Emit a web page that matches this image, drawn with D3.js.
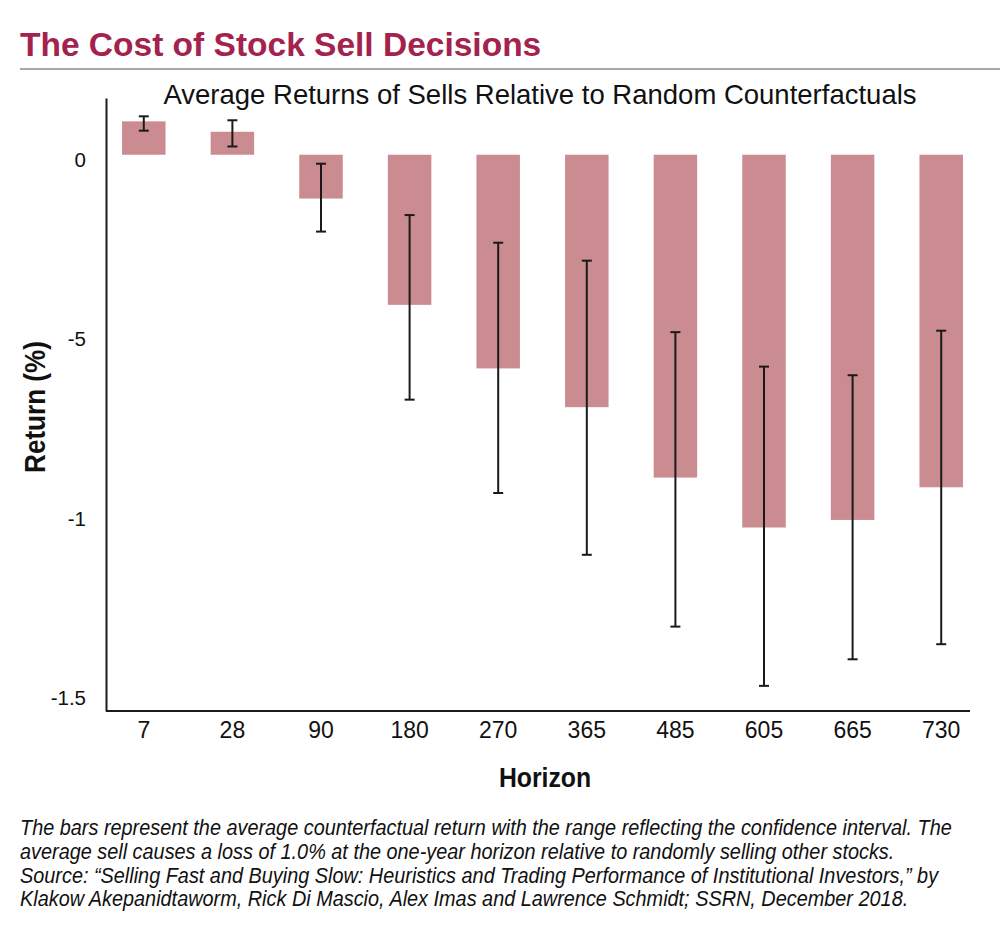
<!DOCTYPE html>
<html>
<head>
<meta charset="utf-8">
<script src="https://cdn.jsdelivr.net/npm/d3@7"></script>
<style>
  body { margin: 0; background: #fff; }
  svg { display: block; }
</style>
</head>
<body>
<svg id="chart" width="1000" height="947"></svg>
<script>
// data
const horizons = ['7', '28', '90', '180', '270', '365', '485', '605', '665', '730'];
const meanReturn = [0.093, 0.064, -0.122, -0.418, -0.595, -0.703, -0.899, -1.038, -1.017, -0.926];
const ciHigh = [0.107, 0.096, -0.025, -0.168, -0.245, -0.295, -0.494, -0.590, -0.614, -0.490];
const ciLow = [0.067, 0.023, -0.214, -0.682, -0.942, -1.114, -1.314, -1.479, -1.405, -1.363];
const yTicks = [0, -0.5, -1, -1.5];
const yTickLabels = ['0', '-5', '-1', '-1.5'];
const captionLines = [
  'The bars represent the average counterfactual return with the range reflecting the confidence interval. The',
  'average sell causes a loss of 1.0% at the one-year horizon relative to randomly selling other stocks.',
  'Source: \u201cSelling Fast and Buying Slow: Heuristics and Trading Performance of Institutional Investors,\u201d by',
  'Klakow Akepanidtaworm, Rick Di Mascio, Alex Imas and Lawrence Schmidt; SSRN, December 2018.'
];

const svg = d3.select('#chart');
const sans = '"Liberation Sans", Arial, Helvetica, sans-serif';

const data = horizons.map((h, i) => ({
  h, v: meanReturn[i], hi: ciHigh[i], lo: ciLow[i]
}));

// header
svg.append('text')
  .attr('x', 20).attr('y', 56)
  .attr('font-family', sans)
  .attr('font-weight', 'bold')
  .attr('font-size', 33.5)
  .attr('fill', '#a3224e')
  .text('The Cost of Stock Sell Decisions');

svg.append('line')
  .attr('x1', 20).attr('x2', 1000)
  .attr('y1', 69).attr('y2', 69)
  .attr('stroke', '#a8a8a8')
  .attr('stroke-width', 2);

svg.append('text')
  .attr('x', 540).attr('y', 104)
  .attr('text-anchor', 'middle')
  .attr('font-family', sans)
  .attr('font-size', 27.5)
  .attr('fill', '#111')
  .text('Average Returns of Sells Relative to Random Counterfactuals');

// scales
const x = d3.scaleBand()
  .domain(horizons)
  .range([106, 979])
  .paddingInner(0.509)
  .paddingOuter(0.181);

const y = d3.scaleLinear()
  .domain([-1.549, 0.158])
  .range([711, 98]);

const barColor = '#cb8c91';

svg.append('g')
  .selectAll('rect')
  .data(data)
  .join('rect')
  .attr('x', d => x(d.h))
  .attr('width', x.bandwidth())
  .attr('y', d => y(Math.max(0, d.v)))
  .attr('height', d => Math.abs(y(d.v) - y(0)))
  .attr('fill', barColor);

// error bars
const capW = 10;
const cx = d => x(d.h) + x.bandwidth() / 2;
const err = svg.append('g')
  .attr('stroke', '#1a1a1a')
  .attr('stroke-width', 2);

err.selectAll('line.stem')
  .data(data)
  .join('line')
  .attr('class', 'stem')
  .attr('x1', cx).attr('x2', cx)
  .attr('y1', d => y(d.hi))
  .attr('y2', d => y(d.lo));

err.selectAll('line.cap-hi')
  .data(data)
  .join('line')
  .attr('class', 'cap-hi')
  .attr('x1', d => cx(d) - capW / 2)
  .attr('x2', d => cx(d) + capW / 2)
  .attr('y1', d => y(d.hi))
  .attr('y2', d => y(d.hi));

err.selectAll('line.cap-lo')
  .data(data)
  .join('line')
  .attr('class', 'cap-lo')
  .attr('x1', d => cx(d) - capW / 2)
  .attr('x2', d => cx(d) + capW / 2)
  .attr('y1', d => y(d.lo))
  .attr('y2', d => y(d.lo));

// axes
const xAxis = svg.append('g')
  .attr('transform', `translate(0,${y.range()[0]})`)
  .call(d3.axisBottom(x).tickSize(0).tickSizeOuter(0).tickPadding(11));

const yAxis = svg.append('g')
  .attr('transform', 'translate(106,0)')
  .call(d3.axisLeft(y)
    .tickValues(yTicks)
    .tickFormat((d, i) => yTickLabels[i])
    .tickSize(0)
    .tickSizeOuter(0)
    .tickPadding(20));

[xAxis, yAxis].forEach(g => {
  g.select('.domain').attr('stroke', '#1a1a1a').attr('stroke-width', 2);
  g.selectAll('text')
    .attr('font-family', sans)
    .attr('fill', '#111');
});
xAxis.selectAll('text').attr('font-size', 23);
yAxis.selectAll('text').attr('font-size', 20.5).attr('dy', '0.55em');
xAxis.select('.domain').attr('d', 'M106,0H970');

// axis titles (the original uses a condensed face, so scale x down)
svg.append('text')
  .attr('transform', 'translate(45,407) rotate(-90) scale(0.87,1)')
  .attr('text-anchor', 'middle')
  .attr('font-family', sans)
  .attr('font-weight', 'bold')
  .attr('font-size', 30)
  .attr('fill', '#111')
  .text('Return (%)');

svg.append('text')
  .attr('transform', 'translate(545,787) scale(0.87,1)')
  .attr('text-anchor', 'middle')
  .attr('font-family', sans)
  .attr('font-weight', 'bold')
  .attr('font-size', 28.5)
  .attr('fill', '#111')
  .text('Horizon');

// caption: condensed italic, one common horizontal squeeze
const cap = svg.append('g')
  .selectAll('text')
  .data(captionLines)
  .join('text')
  .attr('font-family', sans)
  .attr('font-style', 'italic')
  .attr('font-size', 22.5)
  .attr('fill', '#111')
  .text(d => d);

const k = 932 / cap.node().getComputedTextLength();
cap.attr('transform', (d, i) => `translate(20,${835 + i * 23.8}) scale(${k},1)`);
</script>
</body>
</html>
